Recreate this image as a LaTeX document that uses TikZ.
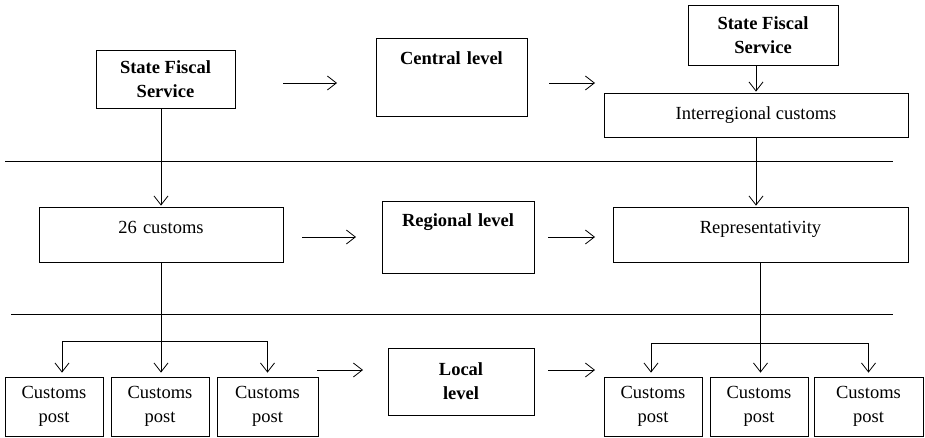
\documentclass[tikz,border=0pt]{standalone}
\usepackage{fontspec}
\setmainfont{Liberation Serif}
\usetikzlibrary{arrows.meta}

\def\lineA{161}
\def\lineB{314}
\def\busL{341}
\def\busR{343}

\tikzset{
  box/.style={draw,line width=0.8pt,inner sep=0pt,align=center,font=\fontsize{18.5}{24}\selectfont},
  boldbox/.style={box,font=\fontsize{18.5}{24}\selectfont\bfseries},
  post/.style={box,minimum height=59pt},
  arr/.style={line width=0.8pt,-{Straight Barb[length=9pt,width=14pt,line width=0.8pt]}},
  divider/.style={line width=0.9pt}
}

\begin{document}
\begin{tikzpicture}[x=1pt,y=-1pt,line cap=butt]
  \useasboundingbox (0,0) rectangle (925,437);

  % central level
  \node[boldbox,minimum width=139pt,minimum height=58pt] (sfsA) at (165.5,79) {State Fiscal\\Service};
  \node[boldbox,text width=151pt,text height=26pt,text depth=52pt] (central) at (451.5,77) {Central level};
  \node[boldbox,minimum width=150pt,minimum height=60pt] (sfsB) at (763,35) {State Fiscal\\Service};
  \node[box,minimum width=304pt,minimum height=44pt] (inter) at (756,115) {Interregional customs};

  % regional level
  \node[box,text width=244pt,text height=26pt,text depth=29pt] (c26) at (161,234.5) {26 customs};
  \node[boldbox,text width=152pt,text height=25pt,text depth=47pt] (regional) at (458,237) {Regional level};
  \node[box,text width=295pt,text height=26pt,text depth=29pt] (repr) at (760.5,234.5) {Representativity};

  % local level
  \node[boldbox,minimum width=146pt,minimum height=67pt] (local) at (461,381.5) {Local\\level};
  \foreach \n/\x/\w in {l1/54/98, l2/160/98, l3/267.5/101, r1/653/98, r2/759/98, r3/868.5/109}
    \node[post,minimum width=\w pt] (\n) at (\x,406.5) {Customs\\post};

  \draw[divider] (5,\lineA) -- (893,\lineA);
  \draw[divider] (11,\lineB) -- (893,\lineB);

  % arrows between the boxes of a level
  \foreach \n/\xa/\xb/\y in {a1/283/337/83, a2/549/595/83, a3/302/356/237, a4/548/595/237, a5/317/363/370, a6/548/595/370} {
    \coordinate (\n s) at (\xa,\y);
    \coordinate (\n e) at (\xb,\y);
    \draw[arr] (\n s) -- (\n e);
  }

  \draw[arr,shorten >=1pt] (c26.north |- sfsA.south) -- (c26.north);
  \draw[arr,shorten >=1pt] (sfsB.south -| inter.north) -- (inter.north);
  \draw[arr,shorten >=1pt] (inter.south) -- (inter.south |- repr.north);

  \draw[arr,shorten >=4pt] (c26.south) -- (c26.south |- l2.north);
  \draw[arr,shorten >=4pt] (c26.south |- 0,\busL) -| ([xshift=8pt]l1.north);
  \draw[arr,shorten >=4pt] (c26.south |- 0,\busL) -| (l3.north);

  \draw[arr,shorten >=4pt] (repr.south) -- (repr.south |- r2.north);
  \draw[arr,shorten >=4pt] (repr.south |- 0,\busR) -| ([xshift=-2pt]r1.north);
  \draw[arr,shorten >=4pt] (repr.south |- 0,\busR) -| (r3.north);
\end{tikzpicture}
\end{document}
